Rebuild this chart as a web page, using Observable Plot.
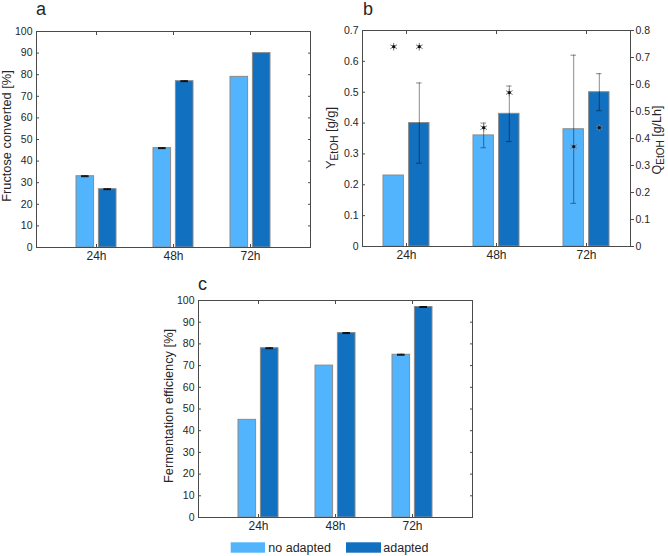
<!DOCTYPE html>
<html><head><meta charset="utf-8">
<script src="https://cdn.jsdelivr.net/npm/d3@7"></script>
<script src="https://cdn.jsdelivr.net/npm/@observablehq/plot@0.6"></script>
<style>
body{margin:0;background:#fff;}
#root{position:relative;width:668px;height:556px;font-family:"Liberation Sans",Arial,sans-serif;color:#262626;overflow:hidden;}
#root svg{position:absolute;overflow:visible;}
</style></head><body><div id="root"></div>
<script>
// ---------- data ----------
const times = ["24h", "48h", "72h"];
const seriesNames = ["no adapted", "adapted"];
const seriesColors = ["#52b4fd", "#1170c0"];

// panel a: fructose converted [%]
const fructoseNoAdapted = [33, 46, 79];
const fructoseAdapted = [27, 77, 90];
const fructoseNoAdaptedErr = [0.2, 0.2, 0];
const fructoseAdaptedErr = [0.2, 0.2, 0];
const fructoseTicks = [0, 10, 20, 30, 40, 50, 60, 70, 80, 90, 100];

// panel b: ethanol yield Y [g/g] (bars, left axis) and productivity Q [g/Lh] (asterisks, right axis)
const yieldNoAdapted = [0.23, 0.36, 0.38];
const yieldAdapted = [0.40, 0.43, 0.50];
const yieldNoAdaptedErr = [0, 0.04, 0.24];
const yieldAdaptedErr = [0.13, 0.09, 0.06];
const productivityNoAdapted = [0.74, 0.44, 0.37];
const productivityAdapted = [0.74, 0.57, 0.44];
const yieldTicks = [0, 0.1, 0.2, 0.3, 0.4, 0.5, 0.6, 0.7];
const productivityTicks = [0, 0.1, 0.2, 0.3, 0.4, 0.5, 0.6, 0.7, 0.8];

// panel c: fermentation efficiency [%]
const efficiencyNoAdapted = [45, 70, 75];
const efficiencyAdapted = [78, 85, 97];
const efficiencyNoAdaptedErr = [0, 0, 0.2];
const efficiencyAdaptedErr = [0.2, 0.2, 0.2];
const efficiencyTicks = [0, 10, 20, 30, 40, 50, 60, 70, 80, 90, 100];

// ---------- helpers ----------
const rows = (vals, errs) => times.map((t, i) => ({time: t, value: vals[i], err: errs ? errs[i] : 0}));
const FONT = '"Liberation Sans", Arial, sans-serif';
const INK = "#262626";
const BOX = "#4a4a4a";
const root = document.getElementById("root");

function place(svg, left, top) {
  svg.style.left = left + "px";
  svg.style.top = top + "px";
  root.appendChild(svg);
}

function barPanel(o) {
  const bw = 2 * o.barW + o.gap;
  const off = bw / 2 - o.barW / 2;
  const series = [[o.noAd, 0, -off], [o.ad, 1, off]];
  const marks = [];
  for (const [data, k] of series) {
    marks.push(Plot.barY(data, {
      x: "time", y: "value", fill: seriesColors[k], stroke: "#8a8a8a", strokeWidth: 1,
      insetLeft: k ? bw - o.barW : 0, insetRight: k ? 0 : bw - o.barW
    }));
  }
  for (const [data, k, dx] of series) {
    const e = data.filter(d => d.err > 0);
    const capL = k ? bw - o.barW / 2 - o.capW / 2 : o.barW / 2 - o.capW / 2;
    const capR = bw - o.capW - capL;
    marks.push(Plot.ruleX(e, {x: "time", y1: d => d.value - d.err, y2: d => d.value + d.err, dx, ...o.errStyle}));
    marks.push(Plot.tickY(e, {x: "time", y: d => d.value + d.err, insetLeft: capL, insetRight: capR, ...o.errStyle}));
    marks.push(Plot.tickY(e, {x: "time", y: d => d.value - d.err, insetLeft: capL, insetRight: capR, ...o.errStyle}));
  }
  marks.push(Plot.frame({stroke: BOX, strokeWidth: 1}));
  marks.push(Plot.axisY({ticks: o.yTicks, anchor: "left", tickSize: 0, tickPadding: 4, fontSize: 10.5, label: null, tickFormat: o.yFmt, fill: INK}));
  marks.push(Plot.axisY({ticks: o.yTicks, anchor: "left", tickSize: -3, tickFormat: () => "", label: null, stroke: BOX}));
  if (o.mirrorY) marks.push(Plot.axisY({ticks: o.yTicks, anchor: "right", tickSize: -3, tickFormat: () => "", label: null, stroke: BOX}));
  marks.push(Plot.axisX({anchor: "bottom", tickSize: 0, tickPadding: 4, fontSize: 12, label: null, fill: INK}));
  marks.push(Plot.axisX({anchor: "top", tickSize: -3, tickFormat: () => "", label: null, stroke: BOX}));
  marks.push(Plot.axisX({anchor: "bottom", tickSize: -3, tickFormat: () => "", label: null, stroke: BOX}));
  return Plot.plot({
    width: o.width, height: o.height,
    marginLeft: o.m[0], marginRight: o.m[1], marginTop: o.m[2], marginBottom: o.m[3],
    style: {fontFamily: FONT, color: INK, background: "transparent", overflow: "visible"},
    x: {type: "band", domain: times, paddingInner: o.pInner, paddingOuter: o.pOuter, axis: null},
    y: {domain: o.yDomain, axis: null},
    marks
  });
}

const capStyleSolid = {stroke: "#111", strokeWidth: 1.1};
const capStyleSoft = {stroke: "#000", strokeOpacity: 0.45, strokeWidth: 1};

// ---------- panel a ----------
place(barPanel({
  width: 334, height: 270, m: [36, 24, 31, 23],
  noAd: rows(fructoseNoAdapted, fructoseNoAdaptedErr), ad: rows(fructoseAdapted, fructoseAdaptedErr),
  barW: 18, gap: 4.4, pInner: 0.48, pOuter: 0.507, capW: 8, errStyle: capStyleSolid,
  yDomain: [0, 100], yTicks: fructoseTicks, yFmt: d3.format("d"), mirrorY: true
}), 0, 0);

// ---------- panel b (left axis: yield) ----------
const bOpts = {width: 334, height: 270, m: [28, 38, 30, 24], barW: 20.8, gap: 4.8, pInner: 0.486, pOuter: 0.229};
place(barPanel({
  ...bOpts,
  noAd: rows(yieldNoAdapted, yieldNoAdaptedErr), ad: rows(yieldAdapted, yieldAdaptedErr),
  capW: 6, errStyle: capStyleSoft,
  yDomain: [0, 0.7], yTicks: yieldTicks, yFmt: d => d === 0 ? "0" : d3.format(".1f")(d), mirrorY: false
}), 334, 0);

// ---------- panel b (right axis: productivity) ----------
{
  const bw = 2 * bOpts.barW + bOpts.gap;
  const off = bw / 2 - bOpts.barW / 2;
  const prodSeries = [[rows(productivityNoAdapted), -off], [rows(productivityAdapted), off]];
  const marks = [];
  for (const [data, dx] of prodSeries) {
    marks.push(Plot.dot(data, {x: "time", y: "value", dx, symbol: "asterisk", r: 3.6, stroke: "#777", strokeWidth: 1}));
    marks.push(Plot.dot(data, {x: "time", y: "value", dx, r: 1.6, fill: "#111", stroke: null}));
  }
  marks.push(Plot.axisY({ticks: productivityTicks, anchor: "right", tickSize: 3, tickPadding: 2, fontSize: 10.5, label: null, fill: INK, stroke: BOX,
    tickFormat: d => d === 0 ? "0" : d3.format(".1f")(d)}));
  place(Plot.plot({
    width: bOpts.width, height: bOpts.height,
    marginLeft: bOpts.m[0], marginRight: bOpts.m[1], marginTop: bOpts.m[2], marginBottom: bOpts.m[3],
    style: {fontFamily: FONT, color: INK, background: "transparent", overflow: "visible"},
    x: {type: "band", domain: times, paddingInner: bOpts.pInner, paddingOuter: bOpts.pOuter, axis: null},
    y: {domain: [0, 0.8], axis: null},
    marks
  }), 334, 0);
}

// ---------- panel c ----------
place(barPanel({
  width: 334, height: 270, m: [48, 12, 30, 23],
  noAd: rows(efficiencyNoAdapted, efficiencyNoAdaptedErr), ad: rows(efficiencyAdapted, efficiencyAdaptedErr),
  barW: 18, gap: 4.4, pInner: 0.48, pOuter: 0.5, capW: 8, errStyle: capStyleSolid,
  yDomain: [0, 100], yTicks: efficiencyTicks, yFmt: d3.format("d"), mirrorY: true
}), 150, 270);

// ---------- titles, axis labels, legend ----------
const ann = d3.select(root).append("svg")
  .attr("width", 668).attr("height", 556)
  .style("left", "0px").style("top", "0px")
  .style("pointer-events", "none")
  .attr("font-family", FONT).attr("fill", INK);

function ylab(x, y, parts, size) {
  const t = ann.append("text")
    .attr("transform", `translate(${x},${y}) rotate(-90)`)
    .attr("text-anchor", "middle").attr("font-size", size);
  let shifted = false;
  for (const [s, sub] of parts) {
    const ts = t.append("tspan").text(s);
    if (sub && !shifted) { ts.attr("dy", 3.2).attr("font-size", size * 0.8); shifted = true; }
    else if (!sub && shifted) { ts.attr("dy", -3.2); shifted = false; }
  }
}
ylab(10.5, 136, [["Fructose converted [%]"]], 12.8);
ylab(334.5, 138, [["Y"], ["EtOH", true], [" [g/g]"]], 12.8);
ylab(660.5, 140, [["Q"], ["EtOH", true], [" [g/Lh]"]], 12.5);
ylab(172.5, 406, [["Fermentation efficiency [%]"]], 12.8);

const letters = [["a", 36, 15], ["b", 363, 15], ["c", 198, 289.5]];
for (const [s, x, y] of letters) ann.append("text").attr("x", x).attr("y", y).attr("font-size", 18).text(s);

const legendItems = [[0, 230.7, 34.3, 268.3], [1, 346, 35, 383.3]];
for (const [k, x, w, tx] of legendItems) {
  ann.append("rect").attr("x", x).attr("y", 542.3).attr("width", w).attr("height", 10.4).attr("fill", seriesColors[k]);
  ann.append("text").attr("x", tx).attr("y", 551.8).attr("font-size", 12.5).text(seriesNames[k]);
}
</script>
</body></html>
